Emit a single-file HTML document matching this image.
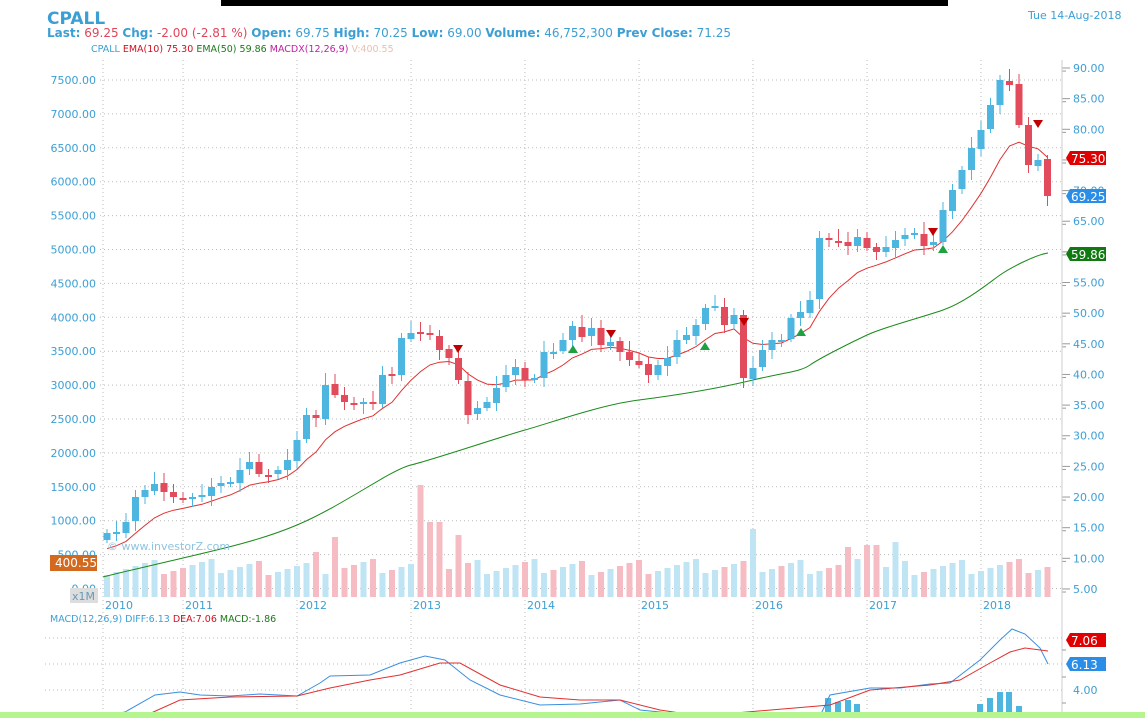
<!DOCTYPE html>
<html><head><meta charset="utf-8"><style>
html,body{margin:0;padding:0;background:#fff;width:1145px;height:718px;overflow:hidden;font-family:"Liberation Sans",sans-serif}
svg text{font-family:"DejaVu Sans","Liberation Sans",sans-serif}
</style></head><body>
<svg id="s" width="1145" height="718" xmlns="http://www.w3.org/2000/svg">
<rect x="221" y="0" width="727" height="6" fill="#000"/>
<text x="47" y="24" font-size="17" font-weight="bold" fill="#3c9fd4" font-family="Liberation Sans">CPALL</text>
<text x="1028" y="19" font-size="11" fill="#3c9fd4">Tue 14-Aug-2018</text>
<text x="47" y="37" font-size="12" fill="#3c9fd4"><tspan font-weight="bold">Last:</tspan><tspan fill="#e2445a"> 69.25 </tspan><tspan font-weight="bold">Chg:</tspan><tspan fill="#e2445a"> -2.00 (-2.81 %) </tspan><tspan font-weight="bold"> Open:</tspan> 69.75 <tspan font-weight="bold">High:</tspan> 70.25 <tspan font-weight="bold">Low:</tspan> 69.00 <tspan font-weight="bold">Volume:</tspan> 46,752,300  <tspan font-weight="bold">Prev Close:</tspan> 71.25</text>
<text x="91" y="52" font-size="9.5" fill="#3c9fd4">CPALL  <tspan fill="#d01020">EMA(10)  75.30</tspan>  <tspan fill="#1a7a1a">EMA(50)  59.86</tspan>  <tspan fill="#c020a0">MACDX(12,26,9)</tspan>  <tspan fill="#e8c0b0">V:400.55</tspan></text>
<g id="g"></g>
</svg>
<script>
const g=document.getElementById('g');let h='';
const P=p=>68+(90-p)*6.129;
const lv=[7500,7000,6500,6000,5500,5000,4500,4000,3500,3000,2500,2000,1500,1000,500,0];
lv.forEach((v,i)=>{const y=80+i*33.9;h+=`<line x1="100" x2="1062" y1="${y}" y2="${y}" stroke="#bbb" stroke-dasharray="1,3"/>`;
h+=`<text x="96" y="${y+4}" font-size="11" fill="#3c9fd4" text-anchor="end">${v.toFixed(2)}</text>`;});
for(let p=90;p>=5;p-=5){const y=P(p);h+=`<line x1="1062" x2="1070" y1="${y}" y2="${y}" stroke="#999"/><text x="1073" y="${y+4}" font-size="11" fill="#3c9fd4">${p.toFixed(2)}</text>`;
h+=`<line x1="1062" x2="1066" y1="${y+3.06}" y2="${y+3.06}" stroke="#999"/>`;}
const yrs=[[103,2010],[183,2011],[297,2012],[411,2013],[525,2014],[639,2015],[753,2016],[867,2017],[981,2018]];
yrs.forEach(([x,t])=>{h+=`<line x1="${x}" x2="${x}" y1="60" y2="718" stroke="#bbb" stroke-dasharray="1,3"/><text x="${x+2}" y="609" font-size="11" fill="#3c9fd4">${t}</text>`;});
[638,664,690].forEach(y=>h+=`<line x1="45" x2="1062" y1="${y}" y2="${y}" stroke="#bbb" stroke-dasharray="1,3"/>`);
h+=`<line x1="1062" x2="1062" y1="60" y2="718" stroke="#ccc"/>`;
const cy=[533,532,522,497,490,484,492,497,500,497,495,487,483,482,470,462,474,475,470,460,440,415,418,385,395,402,405,402,403,375,375,338,333,333,335,350,358,380,415,408,402,388,375,367,380,378,352,352,340,326,337,328,345,342,352,360,365,375,365,358,340,335,325,308,306,325,315,378,368,350,340,340,318,312,300,238,240,243,246,237,248,252,247,240,235,233,246,242,210,190,170,148,130,105,80,85,125,165,160,196];
const N=cy.length;const X=i=>107+i*9.5;
const big={33:112,34:75,35:75,37:62,68:68,24:60,22:45,78:50,80:52,81:52,83:55};
let vol='';
for(let i=0;i<N;i++){const o=i?cy[i-1]:540;const up=cy[i]<o;const vh=big[i]||(22+((i*37)%17));
vol+=`<rect x="${X(i)-3}" y="${597-vh}" width="6" height="${vh}" fill="${up?'#bfe4f3':'#f5bcc3'}"/>`;}
h+=vol;
h+=`<path fill="none" stroke="#1a8a1a" stroke-width="1" d="M103,577 C200,553 250,545 297,525 S390,470 411,465 S500,437 525,430 S600,405 639,400 S720,388 753,380 S800,372 810,365 S850,343 867,335 S920,318 943,310 S990,282 1000,275 S1035,255 1048,253"/>`;
let e=11,pts=[];for(let i=0;i<N;i++){const p=90-(cy[i]-68)/6.129;e=e+(p-e)*2/11;pts.push(X(i)+','+P(e).toFixed(1));}
h+=`<polyline fill="none" stroke="#e03030" stroke-width="1" points="${pts.join(' ')}"/>`;
for(let i=0;i<N;i++){const o=i?cy[i-1]+(i%3-1):540;const c=cy[i];const up=c<o;const col=up?'#4db6e0':'#e24b5b';
const t=Math.min(o,c),b=Math.max(o,c);const hi=t-4-(i*7)%9,lo=b+3+(i*5)%8;
h+=`<line x1="${X(i)}" x2="${X(i)}" y1="${hi}" y2="${lo}" stroke="${col}"/><rect x="${X(i)-3.5}" y="${t}" width="7" height="${Math.max(2,b-t)}" fill="${col}"/>`;}
[[458,350],[611,335],[744,323],[933,233],[1038,125]].forEach(([x,y])=>h+=`<polygon points="${x-5},${y-5} ${x+5},${y-5} ${x},${y+3}" fill="#c00000"/>`);
[[573,350],[705,347],[801,333],[943,250]].forEach(([x,y])=>h+=`<polygon points="${x-5},${y+3} ${x+5},${y+3} ${x},${y-5}" fill="#20a040"/>`);
const tag=(y,t,c)=>`<polygon points="1066,${y} 1070,${y-7} 1106,${y-7} 1106,${y+7} 1070,${y+7}" fill="${c}"/><text x="1071" y="${y+5}" font-size="12" fill="#fff">${t}</text>`;
h+=tag(158,'75.30','#e00000')+tag(196,'69.25','#2a8ee8')+tag(254,'59.86','#107a10');
h+=`<rect x="50" y="555" width="47" height="16" fill="#d2691e"/><text x="55" y="567" font-size="12" fill="#fff">400.55</text>`;
h+=`<rect x="70" y="588" width="28" height="15" fill="#ddd"/><text x="72" y="600" font-size="11" fill="#6699bb">x1M</text>`;
h+=`<text x="107" y="550" font-size="11" fill="#8fc3e0">© www.investorZ.com</text>`;
h+=`<text x="50" y="622" font-size="9.5" fill="#3c9fd4">MACD(12,26,9)   DIFF:6.13   <tspan fill="#d01020">DEA:7.06</tspan>   <tspan fill="#1a7a1a">MACD:-1.86</tspan></text>`;
[[980,8,],[990,14],[1000,20],[1009,20],[1019,6],[828,14],[838,10],[848,12],[857,8]].forEach(([x,hh])=>h+=`<rect x="${x-3}" y="${712-hh}" width="6" height="${hh}" fill="#4db6e0"/>`);
h+=`<polyline fill="none" stroke="#3a8ee0" points="103,716 125,712 155,695 180,692 200,695 230,696 260,694 297,696 320,683 330,676 370,675 400,663 425,656 445,660 470,680 500,695 540,705 580,704 620,700 640,710 700,716 820,716 830,695 870,688 900,688 930,684 950,683 980,660 1000,640 1012,629 1025,634 1040,648 1048,664"/>`;
h+=`<polyline fill="none" stroke="#e03030" points="140,718 180,700 230,697 297,696 330,688 370,680 400,675 440,663 460,663 500,685 540,697 580,700 620,700 660,710 700,716 830,705 870,690 930,685 960,680 990,663 1010,652 1025,648 1048,651"/>`;
h+=`<text x="1073" y="694" font-size="11" fill="#3c9fd4">4.00</text>`;
[650,677,703].forEach(y=>h+=`<line x1="1062" x2="1066" y1="${y}" y2="${y}" stroke="#999"/>`);
h+=tag(640,'7.06','#e00000')+tag(664,'6.13','#2a8ee8');
h+=`<rect x="0" y="712" width="1145" height="6" fill="#b5f58f"/>`;
g.innerHTML=h;
</script>
</body></html>
